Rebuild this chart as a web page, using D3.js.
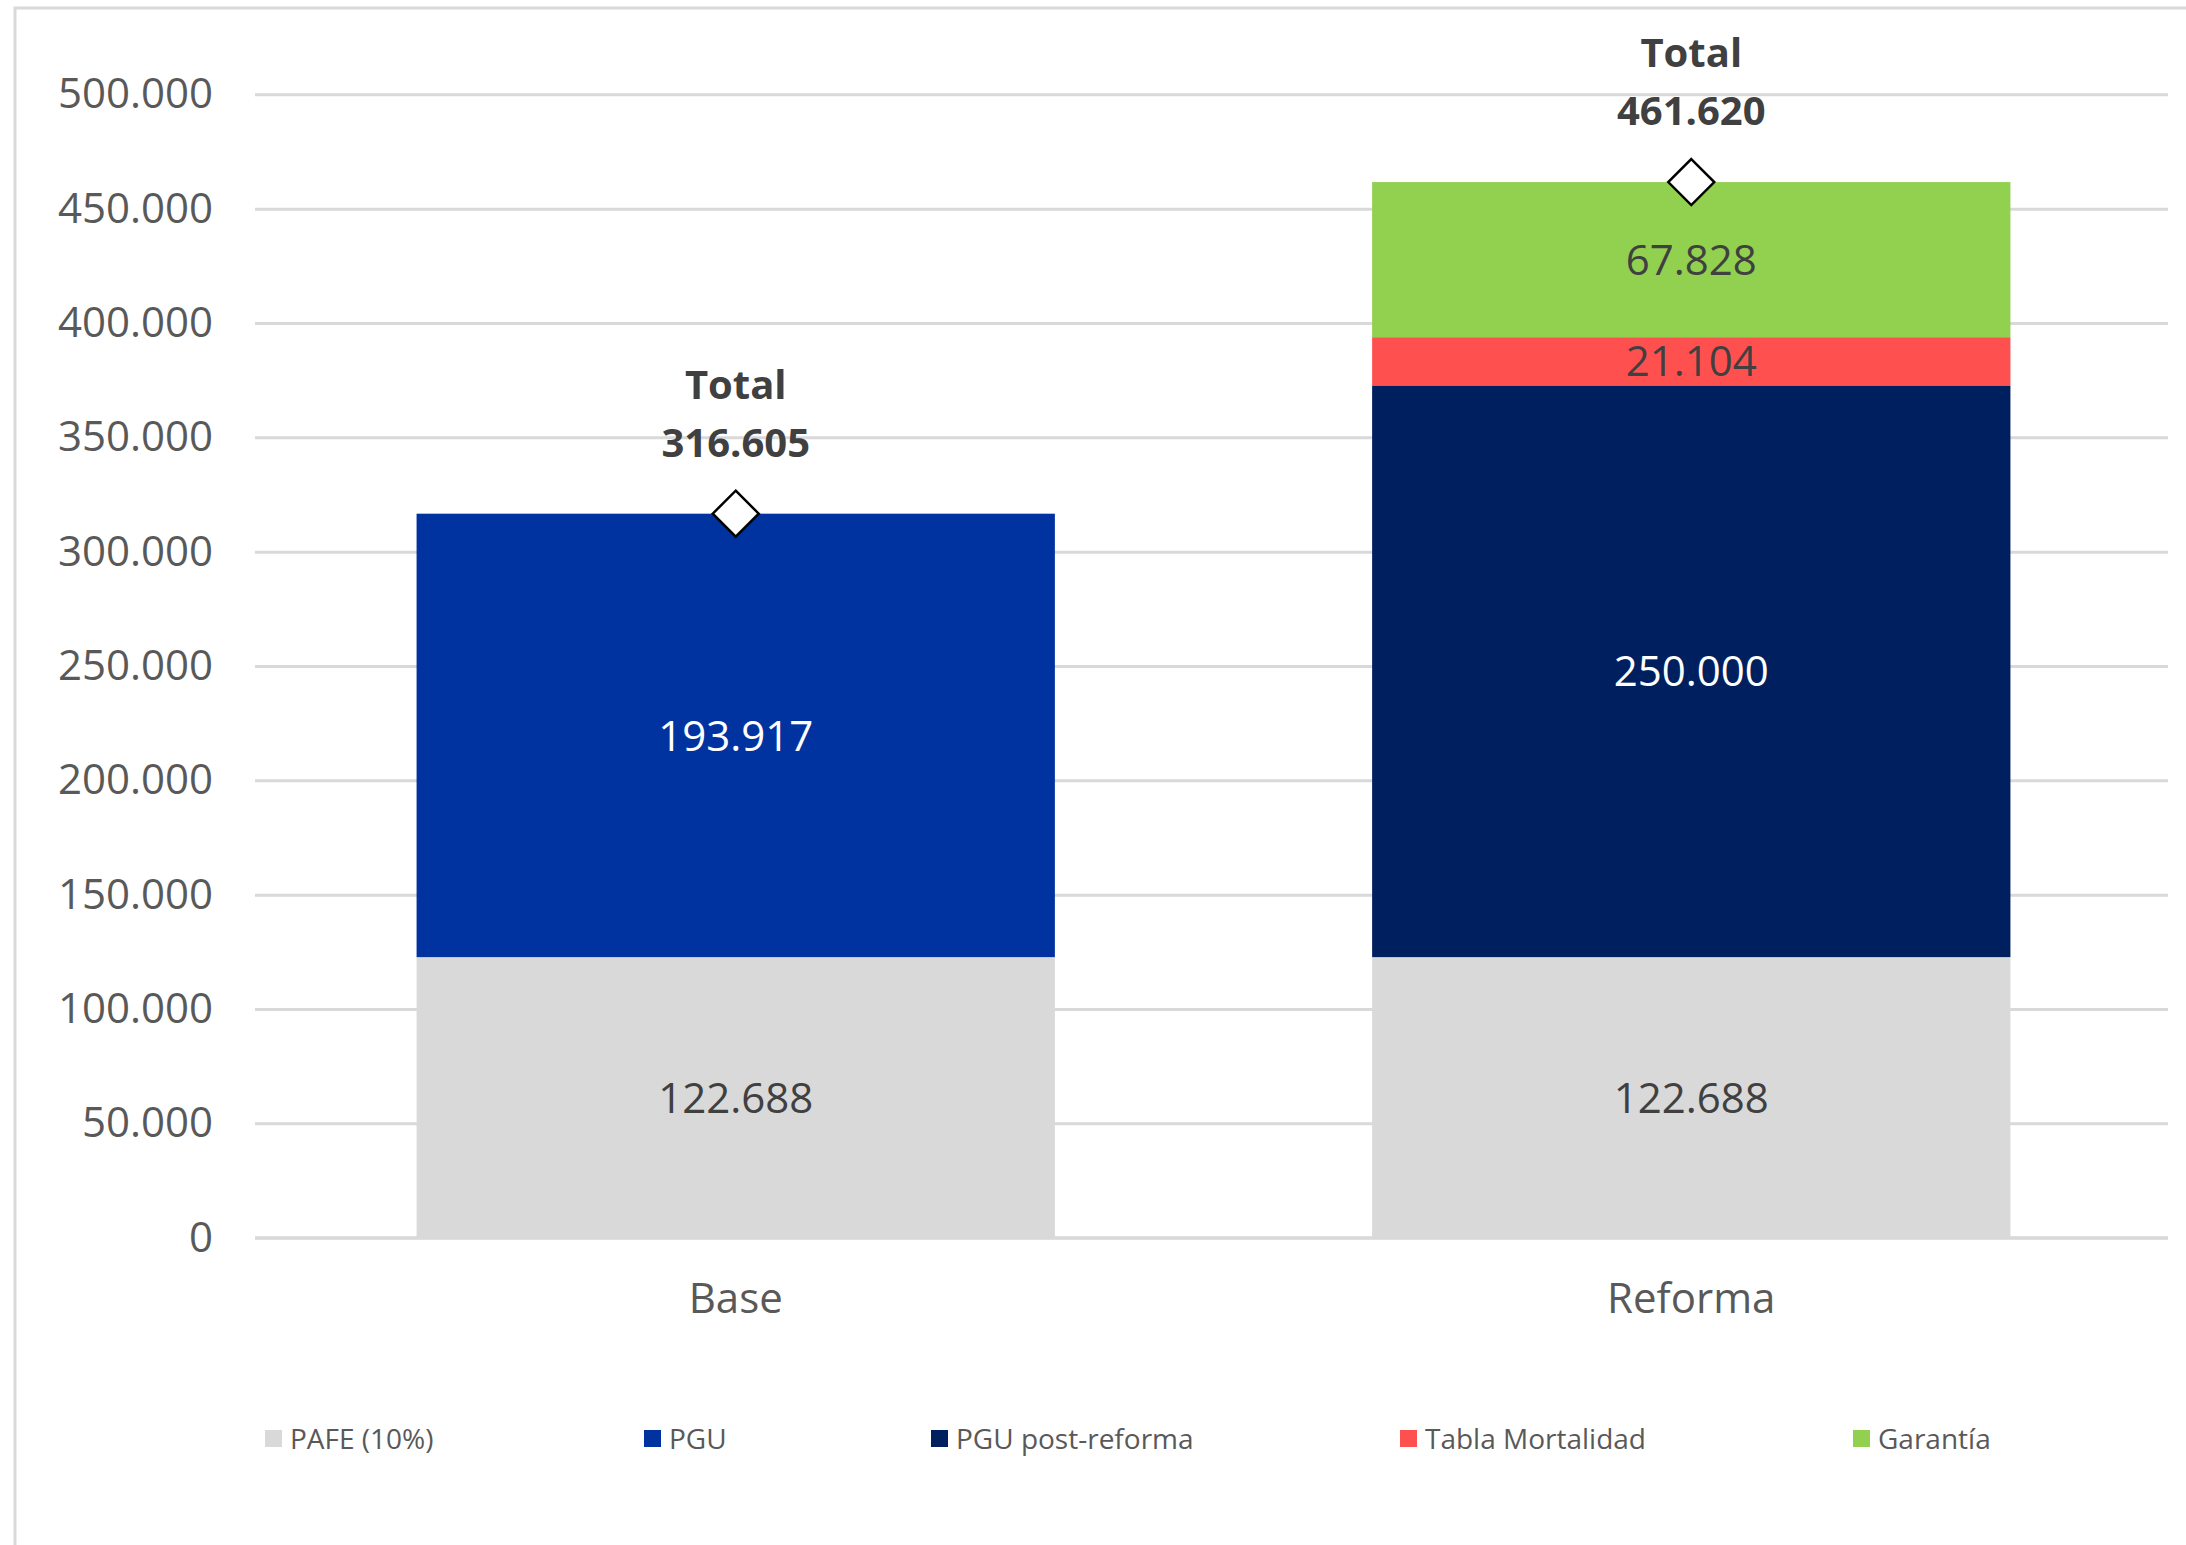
<!DOCTYPE html>
<html>
<head>
<meta charset="utf-8">
<script src="https://cdn.jsdelivr.net/npm/d3@7"></script>
<style>
  body { margin: 0; background: #fff; }
  text { font-family: "Open Sans", "Noto Sans", sans-serif; }
</style>
</head>
<body>
<div id="chart"></div>
<script>
// data
var categories = ['Base', 'Reforma'];
var seriesNames = ['PAFE (10%)', 'PGU', 'PGU post-reforma', 'Tabla Mortalidad', 'Garantía'];
var pafe = [122688, 122688];
var pgu = [193917, 0];
var pguPost = [0, 250000];
var tablaMort = [0, 21104];
var garantia = [0, 67828];
var totals = [316605, 461620];
var yTicks = [0, 50000, 100000, 150000, 200000, 250000, 300000, 350000, 400000, 450000, 500000];

var seriesValues = [pafe, pgu, pguPost, tablaMort, garantia];
var colors = ['#d9d9d9', '#0033a0', '#001f5f', '#ff5050', '#92d050'];
var labelColors = ['#404040', '#ffffff', '#ffffff', '#404040', '#404040'];
var legendX = [265, 644, 931, 1400, 1853];

var W = 2186, H = 1545;
var plotLeft = 255, plotRight = 2168, plotTop = 94.3, plotBottom = 1237.7;

var loc = d3.formatLocale({decimal: ',', thousands: '.', grouping: [3], currency: ['$', '']});
var fmt = loc.format(',d');

var rows = categories.map(function(c, i){
  var r = {cat: c};
  seriesNames.forEach(function(s, j){ r[s] = seriesValues[j][i]; });
  return r;
});

var stack = d3.stack().keys(seriesNames);
var layers = stack(rows);

var x = d3.scaleBand().domain(categories).range([plotLeft + 2, plotRight + 2]).paddingInner(0.332).paddingOuter(0.167);
var y = d3.scaleLinear().domain([0, 500000]).range([plotBottom, plotTop]);

var svg = d3.select('#chart').append('svg')
  .attr('width', W).attr('height', H);

svg.append('rect').attr('width', W).attr('height', H).attr('fill', '#fff');

// chart border (left and top visible)
svg.append('path')
  .attr('d', 'M15,' + H + 'V8H' + W)
  .attr('fill', 'none')
  .attr('stroke', '#d9d9d9')
  .attr('stroke-width', 3);

// y axis + gridlines
var yAxis = svg.append('g')
  .attr('transform', 'translate(' + plotLeft + ',0)')
  .call(d3.axisLeft(y).tickValues(yTicks).tickSize(-(plotRight - plotLeft)).tickPadding(42).tickFormat(fmt));
yAxis.select('.domain').remove();
yAxis.selectAll('line').attr('stroke', '#d9d9d9').attr('stroke-width', 3);
yAxis.selectAll('text')
  .attr('fill', '#595959')
  .style('font-size', '42px');

// bars
var layerG = svg.selectAll('g.layer')
  .data(layers)
  .enter().append('g')
  .attr('class', 'layer')
  .attr('fill', function(d, i){ return colors[i]; });

layerG.selectAll('rect')
  .data(function(d){ return d.filter(function(p){ return p[1] - p[0] > 0; }); })
  .enter().append('rect')
  .attr('x', function(d){ return x(d.data.cat); })
  .attr('width', x.bandwidth())
  .attr('y', function(d){ return y(d[1]); })
  .attr('height', function(d){ return y(d[0]) - y(d[1]); });

// segment labels
layers.forEach(function(layer, i){
  layer.forEach(function(p){
    var v = p[1] - p[0];
    if (v <= 0) return;
    svg.append('text')
      .attr('x', x(p.data.cat) + x.bandwidth() / 2)
      .attr('y', (y(p[0]) + y(p[1])) / 2)
      .attr('dy', '0.36em')
      .attr('text-anchor', 'middle')
      .attr('fill', labelColors[i])
      .style('font-size', '42px')
      .text(fmt(v));
  });
});

// totals: diamond markers + labels
categories.forEach(function(c, i){
  var cx = x(c) + x.bandwidth() / 2;
  var cy = y(totals[i]);
  var s = 23;
  svg.append('path')
    .attr('d', 'M' + cx + ',' + (cy - s) + 'L' + (cx + s) + ',' + cy + 'L' + cx + ',' + (cy + s) + 'L' + (cx - s) + ',' + cy + 'Z')
    .attr('fill', '#fff')
    .attr('stroke', '#000')
    .attr('stroke-width', 2.5);
  svg.append('text')
    .attr('x', cx).attr('y', cy - 129).attr('dy', '0.36em')
    .attr('text-anchor', 'middle').attr('fill', '#404040')
    .style('font-size', '40px').style('font-weight', 'bold')
    .text('Total');
  svg.append('text')
    .attr('x', cx).attr('y', cy - 71).attr('dy', '0.36em')
    .attr('text-anchor', 'middle').attr('fill', '#404040')
    .style('font-size', '40px').style('font-weight', 'bold')
    .text(fmt(totals[i]));
});

// x axis baseline + category labels
svg.append('line')
  .attr('x1', plotLeft).attr('x2', plotRight)
  .attr('y1', plotBottom).attr('y2', plotBottom)
  .attr('stroke', '#d9d9d9').attr('stroke-width', 3);

svg.selectAll('text.cat')
  .data(categories)
  .enter().append('text')
  .attr('class', 'cat')
  .attr('x', function(d){ return x(d) + x.bandwidth() / 2; })
  .attr('y', 1298).attr('dy', '0.36em')
  .attr('text-anchor', 'middle')
  .attr('fill', '#595959')
  .style('font-size', '42px')
  .text(function(d){ return d; });

// legend
var legend = svg.selectAll('g.legend')
  .data(seriesNames)
  .enter().append('g')
  .attr('class', 'legend')
  .attr('transform', function(d, i){ return 'translate(' + legendX[i] + ',1439)'; });
legend.append('rect')
  .attr('x', 0).attr('y', -9).attr('width', 17).attr('height', 17)
  .attr('fill', function(d, i){ return colors[i]; });
legend.append('text')
  .attr('x', 25).attr('dy', '0.36em')
  .attr('fill', '#595959')
  .style('font-size', '28px')
  .text(function(d){ return d; });
</script>
</body>
</html>
